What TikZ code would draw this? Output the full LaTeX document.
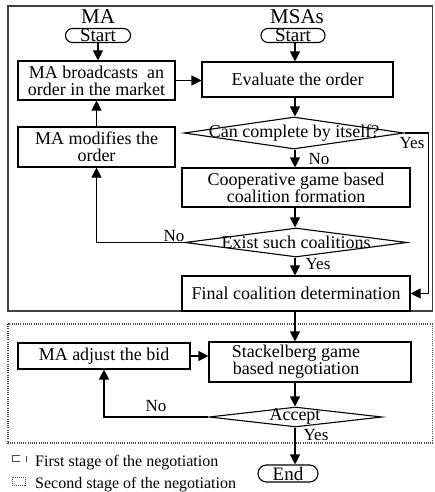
\documentclass[tikz,border=0pt]{standalone}
\usepackage{fontspec}
\setmainfont{Liberation Serif}
\usetikzlibrary{arrows.meta,shapes.geometric}
\begin{document}
\begin{tikzpicture}[x=1pt,y=-1pt,
  box/.style={draw, line width=1.1pt, inner sep=0pt, align=center, font=\fontsize{18}{17}\selectfont},
  term/.style={draw, line width=1.1pt, rounded corners=7pt, inner sep=0pt, font=\fontsize{19}{19}\selectfont},
  dia/.style={draw, diamond, line width=1.1pt, inner sep=0pt},
  txt/.style={inner sep=0pt, align=center, font=\fontsize{18}{17}\selectfont},
  lbl/.style={inner sep=0pt, font=\fontsize{17}{17}\selectfont},
  hdr/.style={inner sep=0pt, font=\fontsize{21}{21}\selectfont, anchor=base},
  leg/.style={inner sep=0pt, font=\fontsize{16}{16}\selectfont, anchor=base west},
  arr/.style={line width=1.1pt, -{Triangle[length=10pt,width=10pt]}},
  frameA/.style={draw=black!75, line width=1.1pt},
  frameB/.style={draw=black!70, line width=1.1pt, dash pattern=on 1pt off 1.2pt},
]
\useasboundingbox (0,0) rectangle (434,492);
\draw[frameA] (8,6) rectangle (432.5,311);
\draw[frameB] (8,324) rectangle (432.5,443);

\node[hdr] (hma) at (98,23.5) {MA};
\node[hdr] (hmsa) at (297,23.5) {MSAs};

\node[term, minimum width=65pt, minimum height=14pt] (startL) at (98,35.5) {Start};
\node[term, minimum width=64pt, minimum height=14pt] (startR) at (293,35.5) {Start};

\node[box, minimum width=157pt, minimum height=39pt] (bcast) at (96.5,80.5) {MA broadcasts\ \ an\\order in the market};
\node[box, minimum width=191pt, minimum height=35pt] (eval) at (297.5,79.5) {Evaluate the order};
\node[dia, minimum width=220pt, minimum height=32pt] (d1) at (294,133) {};
\node[txt] (d1t) at (294,133) {Can complete by itself?};
\node[box, minimum width=157pt, minimum height=40pt] (modif) at (96.5,147) {MA modifies the\\order};
\node[box, minimum width=228pt, minimum height=39pt] (coop) at (296,187.5) {Cooperative game based\\coalition formation};
\node[dia, minimum width=222pt, minimum height=29pt] (d2) at (296,242.5) {};
\node[txt] (d2t) at (296,242) {Exist such coalitions};
\node[box, minimum width=228pt, minimum height=35pt] (final) at (296,293.5) {Final coalition determination};

\node[lbl] (yes1) at (412,143) {Yes};
\node[lbl] (no1) at (319,159) {No};
\node[lbl] (no2) at (174,236) {No};
\node[lbl] (yes2) at (318,264) {Yes};

\node[box, minimum width=172pt, minimum height=26pt] (adj) at (104,356) {MA adjust the bid};
\node[box, minimum width=202pt, minimum height=40pt] (stack) at (310,362) {};
\node[txt] (stackt) at (296,362) {Stackelberg game\\based negotiation};
\node[dia, minimum width=173pt, minimum height=20pt] (acc) at (295.5,417) {};
\node[txt] (acct) at (295,416) {Accept};
\node[lbl] (no3) at (156,406) {No};
\node[lbl] (yes3) at (316,435) {Yes};
\node[term, minimum width=60pt, minimum height=17pt, rounded corners=8.5pt] (endn) at (288,473.5) {End};

\coordinate (col) at (295,0);
\draw[arr] (startL.south) -- (startL.south |- bcast.north);
\draw[arr] (bcast.east) -- (bcast.east -| eval.west);
\draw[arr] (startR.south -| col) -- (eval.north -| col);
\draw[arr] (eval.south -| col) -- (d1.north -| col);
\draw[arr] (d1.south -| col) -- (coop.north -| col);
\draw[arr] (coop.south -| col) -- (d2.north -| col);
\draw[arr] (d2.south -| col) -- (final.north -| col);
\draw[arr] (d1.east) -- ++(24,0) |- (final.east);
\draw[arr] (d2.west) -| (modif.south);
\draw[arr] (modif.north) -- (bcast.south);
\draw[arr] (final.south -| col) -- (stack.north -| col);
\draw[arr] (adj.east) -- (adj.east -| stack.west);
\draw[arr] (stack.south -| col) -- (acc.north -| col);
\draw[arr] (acc.west) -| (adj.south);
\draw[arr] (acc.south -| col) -- (endn.north -| col);

\draw[black!70, line width=0.9pt] (20,455) -- (12,455) -- (12,461) -- (20,461);
\draw[black!70, line width=0.9pt] (26,456) -- (26,462);
\draw[black!70, line width=0.9pt, dash pattern=on 1pt off 1pt] (12,477) rectangle (25,485);
\node[leg] (leg1) at (35,466) {First stage of the negotiation};
\node[leg] (leg2) at (35,488) {Second stage of the negotiation};
\end{tikzpicture}
\end{document}
